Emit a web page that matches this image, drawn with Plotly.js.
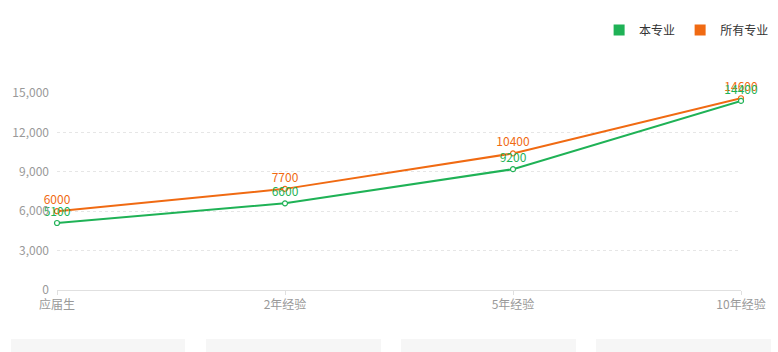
<!DOCTYPE html>
<html>
<head>
<meta charset="utf-8">
<script src="https://cdn.plot.ly/plotly-3.0.1.min.js"></script>
<style>html,body{margin:0;padding:0;background:#fff;}#chart{width:778px;height:352px;}</style>
</head>
<body>
<div id="chart"></div>
<script>
const categories = ['应届生', '2年经验', '5年经验', '10年经验'];
const seriesNames = ['本专业', '所有专业'];
const majorValues = [5100, 6600, 9200, 14400];
const allValues = [6000, 7700, 10400, 14600];
const yTicks = [0, 3000, 6000, 9000, 12000, 15000];
const seriesColors = ['#1fb256', '#f06a12'];

const font = '"Noto Sans CJK SC", "Microsoft YaHei", sans-serif';
const pl = 57, pr = 741, pt = 93, pb = 290;
function px(x){ return (x - pl) / (pr - pl); }
function py(y){ return (pb - y) / (pb - pt); }

function lineTrace(name, vals, color){
  return {
    type: 'scatter', mode: 'lines+markers+text', name: name,
    x: categories, y: vals, text: vals.map(String),
    textposition: 'top center', cliponaxis: false,
    textfont: {family: font, size: 12, color: color},
    line: {color: color, width: 2},
    marker: {symbol: 'circle', size: 5, color: '#fff', line: {color: color, width: 1.2}},
    showlegend: false, hoverinfo: 'x+y'
  };
}
function legendTrace(name, color){
  return {type: 'scatter', mode: 'markers', name: name, x: [null], y: [null],
    marker: {symbol: 'square', size: 11, color: color}, showlegend: true};
}
const data = [
  lineTrace(seriesNames[1], allValues, seriesColors[1]),
  lineTrace(seriesNames[0], majorValues, seriesColors[0]),
  legendTrace(seriesNames[0], seriesColors[0]),
  legendTrace(seriesNames[1], seriesColors[1])
];

const boxes = [[11,185],[206,381],[401,576],[596,771]];
const shapes = boxes.map(b => ({
  type: 'rect', xref: 'paper', yref: 'paper',
  x0: px(b[0]), x1: px(b[1]), y0: py(339), y1: py(360),
  fillcolor: '#f6f6f6', line: {width: 0}, layer: 'below'
}));

const layout = {
  width: 778, height: 352,
  margin: {l: pl, r: 778 - pr, t: pt, b: 352 - pb, pad: 0},
  paper_bgcolor: '#fff', plot_bgcolor: '#fff',
  font: {family: font, size: 12, color: '#999'},
  xaxis: {
    type: 'category', range: [0, categories.length - 1],
    showgrid: false, zeroline: false,
    showline: true, linecolor: '#e0e0e0', linewidth: 1,
    ticks: 'outside', ticklen: 4, tickcolor: '#e0e0e0',
    tickfont: {family: font, size: 12, color: '#999'}, fixedrange: true
  },
  yaxis: {
    range: [0, 15000], tickvals: yTicks,
    ticktext: yTicks.map(v => v.toLocaleString('en-US')),
    showgrid: true, gridcolor: '#e6e6e6', griddash: 'dot', gridwidth: 1,
    zeroline: false, showline: false, ticks: '', ticklabelstandoff: 7,
    tickfont: {family: font, size: 12, color: '#999'}, fixedrange: true
  },
  legend: {
    orientation: 'h', xref: 'container', yref: 'container',
    x: 0.995, xanchor: 'right', y: 1 - 30/352, yanchor: 'middle',
    font: {family: font, size: 12, color: '#333'},
    itemwidth: 30, tracegroupgap: 0
  },
  shapes: shapes,
  showlegend: true
};

Plotly.newPlot('chart', data, layout, {displayModeBar: false, staticPlot: true});
</script>
</body>
</html>
